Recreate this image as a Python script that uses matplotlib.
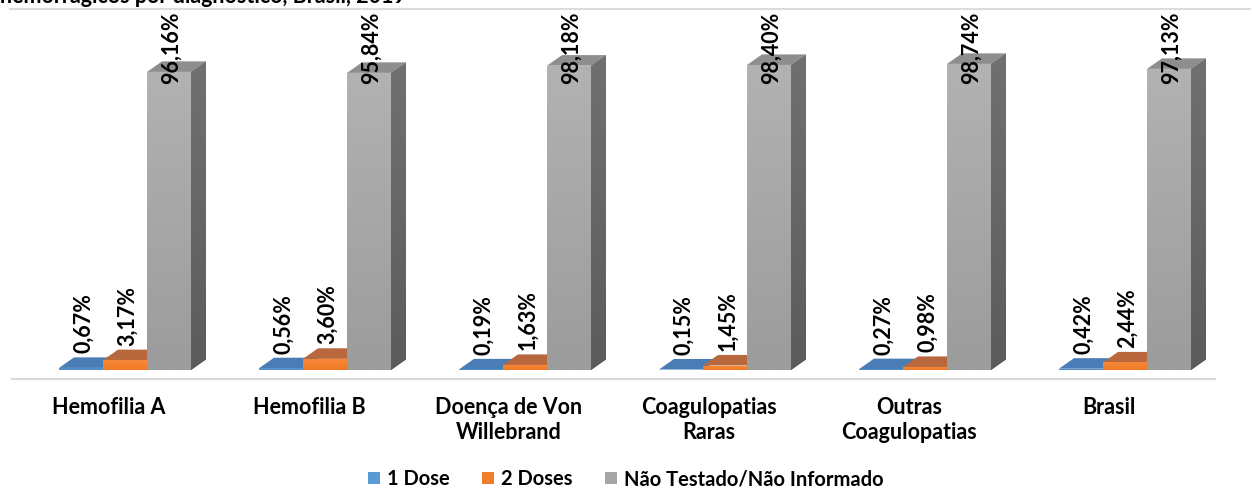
import matplotlib
matplotlib.use("Agg")
import matplotlib.pyplot as plt
from matplotlib.patches import Polygon, Patch
import numpy as np

categories = ["Hemofilia A", "Hemofilia B", "Doença de Von\nWillebrand",
              "Coagulopatias\nRaras", "Outras\nCoagulopatias", "Brasil"]
series_names = ["1 Dose", "2 Doses", "Não Testado/Não Informado"]
dose1 = [0.67, 0.56, 0.19, 0.15, 0.27, 0.42]
dose2 = [3.17, 3.60, 1.63, 1.45, 0.98, 2.44]
nao_testado = [96.16, 95.84, 98.18, 98.40, 98.74, 97.13]
title_text = "hemorrágicos por diagnóstico, Brasil, 2019"

FONT = "Lato"
plt.rcParams["font.family"] = [FONT, "DejaVu Sans"]

# colours: front, top, side
styles = [
    dict(front=("#5B9BD5", "#4F88C0"), top="#4A7DB5", side="#3E6A9A", legend="#5B9BD5"),
    dict(front=("#F7883A", "#F07A24"), top="#B8683C", side="#9A5226", legend="#F07D2B"),
    dict(front=("#B2B2B2", "#9C9C9C"), top="#8E8E8E", side=("#707070", "#5C5C5C"), legend="#A5A5A5"),
]

W, H = 1252, 491
fig = plt.figure(figsize=(W / 100, H / 100), dpi=100)
ax = fig.add_axes([0, 0, 1, 1])
# pixel mapping: x_px = 125 + 200*x ; y_px = 370 - 3.1*y
ax.set_xlim(-125 / 200, (W - 125) / 200)
ax.set_ylim((370 - H) / 3.1, 370 / 3.1)
ax.axis("off")

bw = 0.22          # bar width (group units)
ddx = 0.075        # depth offset x
ddy = 3.4          # depth offset y (percent units)
offsets = [-bw, 0.0, bw]
values = [dose1, dose2, nao_testado]

# floor line
ax.axhline(-2.9, xmin=12 / W, xmax=1215 / W, color="#D9D9D9", lw=1.5, zorder=0)

def gradient_fill(patch, c_top, c_bot, z):
    verts = patch.get_path().vertices
    tr = patch.get_patch_transform()
    xy = tr.transform(verts) if tr is not None else verts
    x0, x1 = xy[:, 0].min(), xy[:, 0].max()
    y0, y1 = xy[:, 1].min(), xy[:, 1].max()
    from matplotlib.colors import to_rgb
    ct, cb = np.array(to_rgb(c_top)), np.array(to_rgb(c_bot))
    t = np.linspace(1, 0, 64)[:, None]
    img = (ct * t + cb * (1 - t))[:, None, :]
    im = ax.imshow(img, extent=(x0, x1, y0, y1), origin="upper", aspect="auto",
                   zorder=z, interpolation="bilinear")
    im.set_clip_path(patch)

z = 1
for i in range(len(categories)):
    for s in range(3):
        v = values[s][i]
        st = styles[s]
        xl = i + offsets[s] - bw / 2
        xr = xl + bw
        # side face
        side = Polygon([(xr, 0), (xr + ddx, ddy), (xr + ddx, v + ddy), (xr, v)],
                       closed=True, facecolor=st["side"] if isinstance(st["side"], str) else st["side"][0],
                       edgecolor="none", zorder=z)
        ax.add_patch(side)
        if not isinstance(st["side"], str):
            gradient_fill(side, st["side"][0], st["side"][1], z)
        # top face
        top = Polygon([(xl, v), (xr, v), (xr + ddx, v + ddy), (xl + ddx, v + ddy)],
                      closed=True, facecolor=st["top"], edgecolor="none", zorder=z + 0.1)
        ax.add_patch(top)
        # front face
        bar = ax.bar(i + offsets[s], v, width=bw, color=st["front"][0],
                     edgecolor="none", zorder=z + 0.2)[0]
        gradient_fill(bar, st["front"][0], st["front"][1], z + 0.2)
        z += 1

# value labels
label_fs = 15.5
for i in range(len(categories)):
    for s in range(3):
        v = values[s][i]
        txt = f"{v:.2f}%".replace(".", ",")
        xc = i + offsets[s] + 0.012
        if v > 50:
            ax.text(xc, 115.5, txt, rotation=90, ha="center", va="top",
                    fontsize=label_fs, fontweight="bold", color="#000000", zorder=200)
        else:
            ax.text(xc, v + ddy + 1.3, txt, rotation=90, ha="center", va="bottom",
                    fontsize=label_fs, fontweight="bold", color="#000000", zorder=200)

# category labels
for i, c in enumerate(categories):
    ax.text(i - 0.08, -8.6, c, ha="center", va="top", fontsize=15.5,
            fontweight="bold", color="#000000", linespacing=1.25)

# title (cut at top) and separator line
fig.text(0.0, 1 - 3 / H, title_text, ha="left", va="baseline", fontsize=15.5,
         fontweight="bold", color="#000000")
ax.plot([10 / W, 1250 / W], [1 - 9 / H, 1 - 9 / H], transform=fig.transFigure,
        color="#D9DDE2", lw=1.5, zorder=0)

# legend
handles = [Patch(facecolor=st["legend"], edgecolor="none") for st in styles]
fig.legend(handles, series_names, loc="center", bbox_to_anchor=(626 / W, (H - 479) / H),
           ncol=3, frameon=False, handlelength=0.6, handleheight=0.6,
           handletextpad=0.35, columnspacing=1.6,
           prop=dict(family=[FONT, "DejaVu Sans"], weight="bold", size=14.5))

fig.savefig("out.png", dpi=100)
